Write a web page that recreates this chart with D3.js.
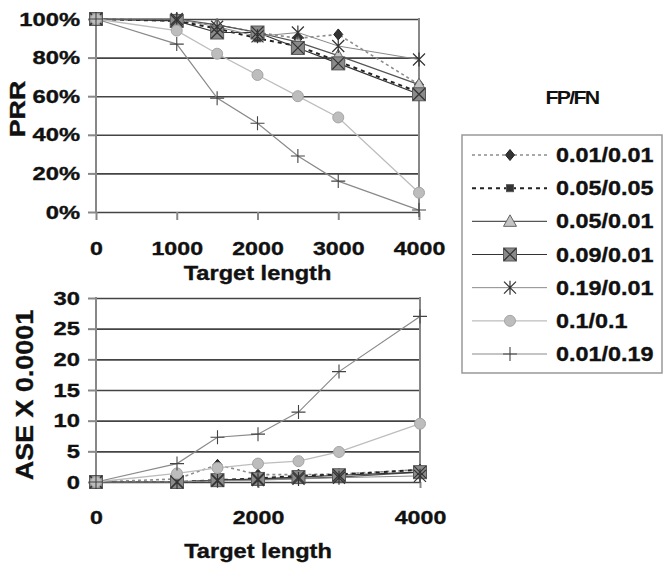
<!DOCTYPE html>
<html>
<head>
<meta charset="utf-8">
<script src="https://cdn.jsdelivr.net/npm/d3@7"></script>
<style>
	body { margin: 0; background: #fff; }
	svg { display: block; font-family: Arial, "Liberation Sans", sans-serif; }
</style>
</head>
<body>
<svg id="chart" width="663" height="566"></svg>
<script>
'use strict';

// target lengths (x positions shared by both panels)
var targetLength = [0, 1000, 1500, 2000, 2500, 3000, 4000];
var seriesLabels = ['0.01/0.01', '0.05/0.05', '0.05/0.01', '0.09/0.01', '0.19/0.01', '0.1/0.1', '0.01/0.19'];

// PRR (%) per FP/FN setting
var prr0101 = [100, 99, 97, 93, 90, 92, 66];
var prr0505 = [100, 99, 95, 90, 86, 78, 62];
var prr0501 = [100, 100, 97, 93, 88, 81, 66];
var prr0901 = [100, 99, 93, 93, 85, 77, 61];
var prr1901 = [100, 100, 96, 91, 93, 86, 79];
var prr1010 = [100, 94, 82, 71, 60, 49, 10];
var prr0119 = [100, 87, 59, 46, 29, 16, 1];

// ASE x 0.0001 per FP/FN setting
var ase0101 = [0, 0.5, 2.8, 1.2, 1.2, 1.3, 2.0];
var ase0505 = [0, 0, 0.3, 0.6, 1.0, 1.2, 2.0];
var ase0501 = [0, 0, 0.3, 0.4, 0.6, 0.8, 1.6];
var ase0901 = [0, 0, 0.3, 0.5, 0.8, 1.1, 1.6];
var ase1901 = [0, 0, 0.2, 0.3, 0.5, 0.7, 1.0];
var ase1010 = [0, 1.4, 2.3, 3.0, 3.4, 4.9, 9.5];
var ase0119 = [0, 3.0, 7.3, 7.8, 11.4, 18.0, 27.0];

var prrTicks = [0, 20, 40, 60, 80, 100];
var aseTicks = [0, 5, 10, 15, 20, 25, 30];
var prrLengthTicks = [0, 1000, 2000, 3000, 4000];
var aseLengthTicks = [0, 2000, 4000];

var prrSeries = [prr0101, prr0505, prr0501, prr0901, prr1901, prr1010, prr0119];
var aseSeries = [ase0101, ase0505, ase0501, ase0901, ase1901, ase1010, ase0119];

// line + marker look for each series (same order as seriesLabels)
var aStyles = [
	{ marker: 'diamond', stroke: '#8c8c8c', width: 1.6, dash: '3,3' },
	{ marker: 'smallsquare', stroke: '#222', width: 2, dash: '4,4' },
	{ marker: 'triangle', stroke: '#555', width: 1.2, dash: null },
	{ marker: 'xsquare', stroke: '#333', width: 1.2, dash: null },
	{ marker: 'asterisk', stroke: '#8a8a8a', width: 1, dash: null },
	{ marker: 'circle', stroke: '#bdbdbd', width: 1.3, dash: null },
	{ marker: 'plus', stroke: '#8a8a8a', width: 1.2, dash: null }
];

var svg = d3.select('#chart');

function StretchText(sel, sx)
{
	sel.each(function() {
		var t = d3.select(this);
		var x = +t.attr('x') || 0;
		t.attr('x', x / sx).attr('transform', 'scale(' + sx + ',1)');
	});
}

function DrawMarker(g, strType)
{
	if (strType == 'diamond')
	{
		g.append('path').attr('d', 'M0,-5.5L4.5,0L0,5.5L-4.5,0Z').attr('fill', '#333').attr('stroke', '#222');
	}
	else if (strType == 'smallsquare')
	{
		g.append('rect').attr('x', -3.5).attr('y', -3.5).attr('width', 7).attr('height', 7)
			.attr('fill', '#333').attr('stroke', '#555');
	}
	else if (strType == 'triangle')
	{
		g.append('path').attr('d', 'M0,-6.5L6.5,5L-6.5,5Z').attr('fill', '#c4c4c4').attr('stroke', '#666');
	}
	else if (strType == 'xsquare')
	{
		g.append('rect').attr('x', -6.5).attr('y', -6.5).attr('width', 13).attr('height', 13)
			.attr('fill', '#8a8a8a').attr('stroke', '#5a5a5a');
		g.append('path').attr('d', 'M-6,-6L6,6M6,-6L-6,6').attr('stroke', '#333').attr('stroke-width', 1.2);
	}
	else if (strType == 'asterisk')
	{
		g.append('path').attr('d', 'M-6,-6L6,6M6,-6L-6,6M0,-7L0,7').attr('stroke', '#333').attr('stroke-width', 1.2);
	}
	else if (strType == 'circle')
	{
		g.append('circle').attr('r', 5.5).attr('fill', '#bdbdbd').attr('stroke', '#a5a5a5');
	}
	else if (strType == 'plus')
	{
		g.append('path').attr('d', 'M-7,0L7,0M0,-7L0,7').attr('stroke', '#444').attr('stroke-width', 1.1);
	}
}

function BoldText(sel, nSize)
{
	sel.attr('fill', '#111')
		.attr('stroke', '#111')
		.attr('stroke-width', 0.35)
		.style('font-size', nSize + 'px')
		.style('font-weight', 'bold');
}

function DrawPanel(aProps)
{
	var x = aProps.x, y = aProps.y;
	var g = svg.append('g');
	var nLeft = x.range()[0], nRight = x.range()[1];
	var nBottom = y.range()[0], nTop = y.range()[1];

	// gridlines
	g.append('g')
		.attr('transform', 'translate(' + nLeft + ',0)')
		.call(d3.axisLeft(y).tickValues(aProps.yTicks).tickSize(-(nRight - nLeft)).tickFormat(''))
		.call(s => s.select('.domain').remove())
		.call(s => s.selectAll('line').attr('stroke', '#444').attr('stroke-width', 1.6));

	// y axis ticks + labels
	var yAxis = g.append('g')
		.attr('transform', 'translate(' + nLeft + ',0)')
		.call(d3.axisLeft(y).tickValues(aProps.yTicks).tickSize(8).tickPadding(8).tickFormat(aProps.yFormat))
		.call(s => s.select('.domain').remove());
	yAxis.selectAll('line').attr('stroke', '#888').attr('stroke-width', 2);
	BoldText(yAxis.selectAll('text'), 19);
	StretchText(yAxis.selectAll('text'), 1.25);

	// x axis ticks + labels
	var xAxis = g.append('g')
		.attr('transform', 'translate(0,' + nBottom + ')')
		.call(d3.axisBottom(x).tickValues(aProps.xTicks).tickSize(aProps.xTickSize).tickPadding(aProps.xPad).tickFormat(d3.format('d')))
		.call(s => s.select('.domain').remove());
	xAxis.selectAll('line').attr('stroke', '#888').attr('stroke-width', 2);
	BoldText(xAxis.selectAll('text'), 19);
	StretchText(xAxis.selectAll('text'), 1.22);

	// frame: left axis + right border
	g.append('line').attr('x1', nLeft).attr('x2', nLeft).attr('y1', nTop - 1).attr('y2', nBottom)
		.attr('stroke', '#888').attr('stroke-width', 2);
	g.append('line').attr('x1', nRight).attr('x2', nRight).attr('y1', nTop - 1).attr('y2', nBottom)
		.attr('stroke', '#888').attr('stroke-width', 2);

	// series
	var line = d3.line().x((d, i) => x(targetLength[i])).y(d => y(d));
	aProps.series.forEach(function(aValues, i) {
		var st = aStyles[i];
		g.append('path')
			.attr('d', line(aValues))
			.attr('fill', 'none')
			.attr('stroke', st.stroke)
			.attr('stroke-width', st.width)
			.attr('stroke-dasharray', st.dash);
	});
	aProps.series.forEach(function(aValues, i) {
		var st = aStyles[i];
		g.append('g').selectAll('g')
			.data(aValues)
			.join('g')
			.attr('transform', (d, j) => 'translate(' + x(targetLength[j]) + ',' + y(d) + ')')
			.each(function() { DrawMarker(d3.select(this), st.marker); });
	});

	// x title
	g.append('text')
		.attr('transform', 'translate(' + ((nLeft + nRight) / 2) + ',' + aProps.xTitleY + ') scale(1.18,1)')
		.attr('text-anchor', 'middle')
		.call(BoldText, 20)
		.text('Target length');

	// y title
	g.append('text')
		.attr('transform', 'translate(' + aProps.yTitleX + ',' + aProps.yTitleY + ') rotate(-90) scale(' + aProps.yTitleScale + ',1)')
		.attr('text-anchor', 'middle')
		.call(BoldText, aProps.yTitleSize)
		.text(aProps.yTitle);
}

DrawPanel({
	x: d3.scaleLinear().domain([0, 4000]).range([96, 419]),
	y: d3.scaleLinear().domain([0, 100]).range([212, 19]),
	series: prrSeries,
	yTicks: prrTicks,
	yFormat: d => d + '%',
	xTicks: prrLengthTicks,
	xTickSize: 8,
	xPad: 22,
	xTitleY: 280,
	yTitle: 'PRR',
	yTitleX: 25,
	yTitleY: 109,
	yTitleSize: 22,
	yTitleScale: 1.22
});

DrawPanel({
	x: d3.scaleLinear().domain([0, 4000]).range([96, 420]),
	y: d3.scaleLinear().domain([0, 30]).range([482, 298]),
	series: aseSeries,
	yTicks: aseTicks,
	yFormat: d3.format('d'),
	xTicks: aseLengthTicks,
	xTickSize: 6,
	xPad: 23,
	xTitleY: 558,
	yTitle: 'ASE  X 0.0001',
	yTitleX: 33,
	yTitleY: 395,
	yTitleSize: 24,
	yTitleScale: 1.12
});

// legend
var legend = svg.append('g');
legend.append('text')
	.attr('transform', 'translate(572,104) scale(1.12,1)')
	.attr('text-anchor', 'middle')
	.attr('fill', '#111')
	.style('font-size', '19px').style('font-weight', 'bold')
	.style('letter-spacing', '-1.5px')
	.text('FP/FN');

legend.append('rect')
	.attr('x', 462).attr('y', 135).attr('width', 200).attr('height', 238)
	.attr('fill', '#fff').attr('stroke', '#999').attr('stroke-width', 1.5);

var rowY = d3.scalePoint().domain(seriesLabels).range([155, 354]);
var rows = legend.selectAll('g.row')
	.data(seriesLabels)
	.join('g')
	.attr('class', 'row')
	.attr('transform', d => 'translate(0,' + rowY(d) + ')');

rows.append('line')
	.attr('x1', 472).attr('x2', 547)
	.attr('stroke', (d, i) => aStyles[i].stroke)
	.attr('stroke-width', (d, i) => aStyles[i].width)
	.attr('stroke-dasharray', (d, i) => aStyles[i].dash);

rows.each(function(d, i) {
	var m = d3.select(this).append('g').attr('transform', 'translate(510,0)');
	DrawMarker(m, aStyles[i].marker);
});

rows.append('text')
	.attr('transform', 'translate(556,7) scale(1.17,1)')
	.call(BoldText, 20)
	.text(d => d);
</script>
</body>
</html>
